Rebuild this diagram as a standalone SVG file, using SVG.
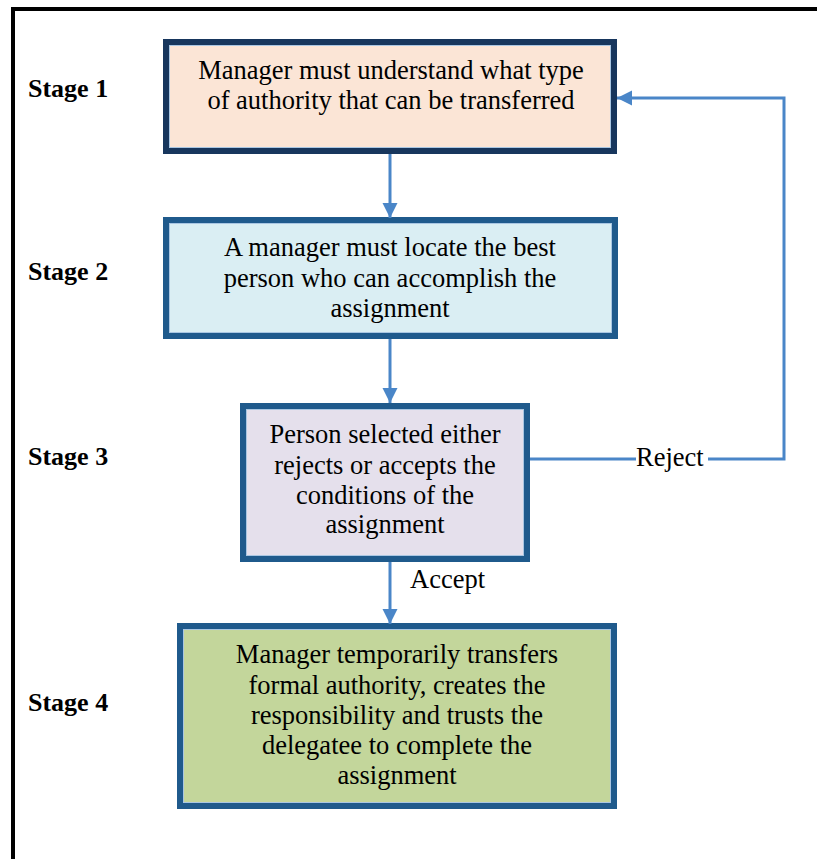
<svg xmlns="http://www.w3.org/2000/svg" width="817" height="859" viewBox="0 0 817 859">
  <style>
    .box { stroke-width: 6; }
    .inner { fill: none; stroke: #A9C6E2; stroke-width: 1; }
    .txt { font-family: "Liberation Serif", "Times New Roman", serif; font-size: 26.5px; fill: #000; text-anchor: middle; }
    .stage { font-family: "Liberation Serif", "Times New Roman", serif; font-size: 26px; font-weight: bold; fill: #000; }
    .lbl { font-family: "Liberation Serif", "Times New Roman", serif; font-size: 26.5px; fill: #000; }
    .conn { fill: none; stroke: #4A86C8; stroke-width: 3; }
  </style>
  <defs>
    <marker id="arrow" markerUnits="userSpaceOnUse" markerWidth="16" markerHeight="16" viewBox="0 0 16 16" refX="15" refY="8" orient="auto">
      <path d="M0,0.5 L15,8 L0,15.5 Z" fill="#4A86C8"/>
    </marker>
  </defs>
  <rect width="817" height="859" fill="#fff"/>
  <path d="M13,859 L13,9 L817,9" fill="none" stroke="#000" stroke-width="4"/>

  <g id="stage-labels">
    <text class="stage" x="28" y="97">Stage 1</text>
    <text class="stage" x="28" y="280">Stage 2</text>
    <text class="stage" x="28" y="465">Stage 3</text>
    <text class="stage" x="28" y="711">Stage 4</text>
  </g>

  <g id="node1">
    <rect class="box" x="166" y="42" width="448" height="109" fill="#FBE5D6" stroke="#17365D"/>
    <rect class="inner" x="169.5" y="45.5" width="441" height="102"/>
    <text class="txt" x="391" y="79">Manager must understand what type</text>
    <text class="txt" x="391" y="109">of authority that can be transferred</text>
  </g>

  <g id="node2">
    <rect class="box" x="166" y="220" width="449" height="116" fill="#DAEEF3" stroke="#1F5A8C"/>
    <rect class="inner" x="169.5" y="223.5" width="442" height="109"/>
    <text class="txt" x="390" y="256">A manager must locate the best</text>
    <text class="txt" x="390" y="287">person who can accomplish the</text>
    <text class="txt" x="390" y="317">assignment</text>
  </g>

  <g id="node3">
    <rect class="box" x="243" y="406" width="284" height="153" fill="#E5E0EC" stroke="#1F5A8C"/>
    <rect class="inner" x="246.5" y="409.5" width="277" height="146"/>
    <text class="txt" x="385" y="443">Person selected either</text>
    <text class="txt" x="385" y="474">rejects or accepts the</text>
    <text class="txt" x="385" y="504">conditions of the</text>
    <text class="txt" x="385" y="533">assignment</text>
  </g>

  <g id="node4">
    <rect class="box" x="180" y="626" width="434" height="180" fill="#C3D69B" stroke="#1F5A8C"/>
    <rect class="inner" x="183.5" y="629.5" width="427" height="173"/>
    <text class="txt" x="397" y="663">Manager temporarily transfers</text>
    <text class="txt" x="397" y="694">formal authority, creates the</text>
    <text class="txt" x="397" y="724">responsibility and trusts the</text>
    <text class="txt" x="397" y="754">delegatee to complete the</text>
    <text class="txt" x="397" y="784">assignment</text>
  </g>

  <g id="connectors">
    <line class="conn" x1="390" y1="154" x2="390" y2="218" marker-end="url(#arrow)"/>
    <line class="conn" x1="390" y1="339" x2="390" y2="403" marker-end="url(#arrow)"/>
    <line class="conn" x1="390" y1="562" x2="390" y2="624" marker-end="url(#arrow)"/>
    <path class="conn" d="M530,459 L636,459"/>
    <path class="conn" d="M708,459 L784,459 L784,98 L617,98" marker-end="url(#arrow)"/>
    <text class="lbl" x="636" y="466">Reject</text>
    <text class="lbl" x="410" y="588">Accept</text>
  </g>
</svg>
